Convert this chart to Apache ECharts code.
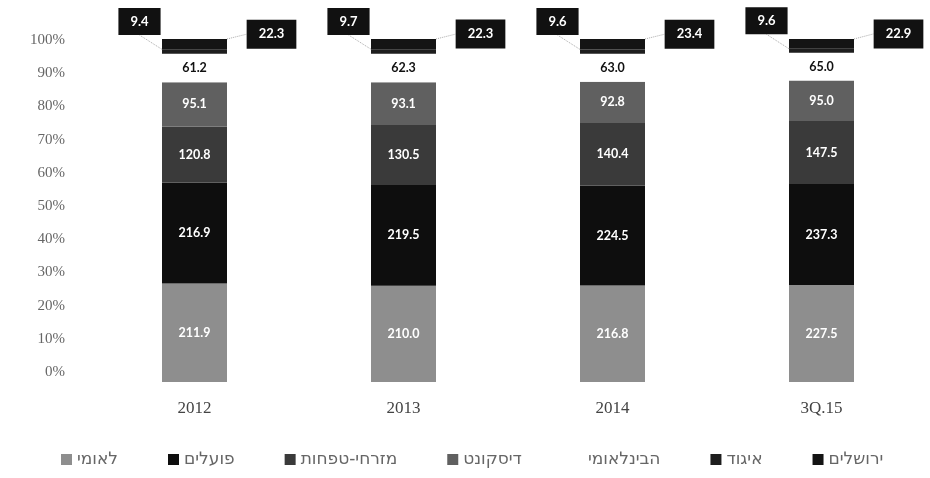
<!DOCTYPE html>
<html>
<head>
<meta charset="utf-8">
<script src="https://cdn.jsdelivr.net/npm/echarts@6/dist/echarts.min.js"></script>
<style>
html,body{margin:0;padding:0;background:#fff;}
#chart{width:930px;height:478px;}
</style>
</head>
<body>
<div id="chart"></div>
<script>
// ---- data ----
const categories = ['2012', '2013', '2014', '3Q.15'];
const seriesNames = ['לאומי', 'פועלים', 'מזרחי-טפחות', 'דיסקונט', 'הבינלאומי', 'איגוד', 'ירושלים'];
const leumi = [211.9, 210.0, 216.8, 227.5];
const hapoalim = [216.9, 219.5, 224.5, 237.3];
const mizrahi = [120.8, 130.5, 140.4, 147.5];
const discount = [95.1, 93.1, 92.8, 95.0];
const international = [61.2, 62.3, 63.0, 65.0];
const igud = [9.4, 9.7, 9.6, 9.6];
const jerusalem = [22.3, 22.3, 23.4, 22.9];
const yTickValues = [0, 10, 20, 30, 40, 50, 60, 70, 80, 90, 100];

const allValues = [leumi, hapoalim, mizrahi, discount, international, igud, jerusalem];
const totals = categories.map((c, i) => allValues.reduce((s, arr) => s + arr[i], 0));

const colors = ['#8e8e8e', '#0e0e0e', '#3a3a3a', '#606060', '#ffffff', '#1e1e1e', '#141414'];
const labelColors = ['#fff', '#fff', '#fff', '#fff', '#111', '#fff', '#fff'];

const chart = echarts.init(document.getElementById('chart'), null, {renderer: 'canvas'});

const series = allValues.map((arr, si) => {
  const s = {
    name: seriesNames[si],
    type: 'bar',
    stack: 'total',
    xAxisIndex: 0,
    yAxisIndex: 0,
    barWidth: 65,
    itemStyle: {color: colors[si]},
    data: arr.map((v, i) => v / totals[i] * 100),
    label: {
      show: true,
      position: 'inside',
      color: labelColors[si],
      fontFamily: 'Lato',
      fontWeight: 'bold',
      fontSize: 12.5,
      formatter: p => arr[p.dataIndex].toFixed(1)
    }
  };
  if (si === 5 || si === 6) {
    s.label.backgroundColor = '#111';
    s.label.fontSize = 13;
    s.label.padding = si === 5 ? [7, 12] : [8, 12];
    s.labelLayout = si === 5 ? {dx: -55, dy: -30} : {dx: 77, dy: -10};
    s.labelLine = {show: true, lineStyle: {color: '#aaa', type: 'dotted', width: 1}};
  }
  return s;
});

const option = {
  backgroundColor: '#fff',
  animation: false,
  grid: [
    {left: 90, right: 4, top: 39, bottom: 96},
    {left: 90, right: 4, top: 40, bottom: 106}
  ],
  xAxis: [
    {
      type: 'category', gridIndex: 0, data: categories,
      axisLine: {show: false}, axisTick: {show: false},
      axisLabel: {color: '#444', fontFamily: 'Liberation Serif', fontSize: 17, margin: 18}
    },
    {type: 'category', gridIndex: 1, data: categories, show: false}
  ],
  yAxis: [
    {type: 'value', gridIndex: 0, min: 0, max: 100, show: false, splitLine: {show: false}},
    {
      type: 'value', gridIndex: 1, min: yTickValues[0], max: yTickValues[yTickValues.length - 1], interval: 10,
      axisLine: {show: false}, axisTick: {show: false}, splitLine: {show: false},
      axisLabel: {color: '#666', fontFamily: 'Liberation Serif', fontSize: 15, margin: 25, formatter: '{value}%'}
    }
  ],
  legend: {
    bottom: 5,
    left: 56,
    itemWidth: 11,
    itemHeight: 11,
    itemGap: 50,
    data: seriesNames.map((n, i) => ({name: n, itemStyle: {color: colors[i], borderWidth: 0}})),
    textStyle: {color: '#666', fontFamily: 'DejaVu Sans', fontSize: 17},
    icon: 'rect'
  },
  series: series
};
chart.setOption(option);
</script>
</body>
</html>
